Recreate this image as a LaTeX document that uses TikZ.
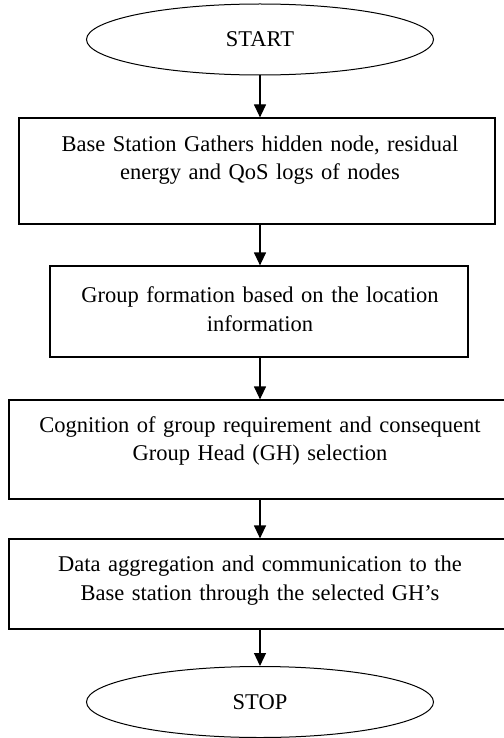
\documentclass[tikz,border=0pt]{standalone}
\usepackage{fontspec}
\setmainfont{Liberation Serif}
\usetikzlibrary{shapes,arrows.meta}

\begin{document}
\begin{tikzpicture}[
    x=1pt, y=-1pt,
    every node/.style={font=\fontsize{22.5}{28.5}\selectfont},
    term/.style={ellipse, draw, line width=1pt, minimum width=347pt, minimum height=71pt, inner sep=0pt},
    proc/.style={rectangle, draw, line width=1.2pt, inner sep=0pt},
    txt/.style={text width=495pt, align=center, inner sep=0pt},
    flow/.style={line width=1.2pt, -{Triangle[width=12pt,length=13pt]}}
]
    \path[use as bounding box, fill=white] (0,0) rectangle (503,738);

    % Terminals
    \node[term] (start) at (260,39.5) {START};
    \node[term] (stop) at (260,702) {STOP};

    % Process boxes
    \node[proc, minimum width=476pt, minimum height=106pt] (gather) at (257,171) {};
    \node[proc, minimum width=418pt, minimum height=91pt] (group) at (259,311.5) {};
    \node[proc, minimum width=502pt, minimum height=99pt] (head) at (260,449.5) {};
    \node[proc, minimum width=502pt, minimum height=90pt] (aggr) at (260,584) {};

    % Box texts (top aligned)
    \node[txt] (gathertxt) at (260,160) {Base Station Gathers hidden node, residual\\energy and QoS logs of nodes};
    \node[txt] (grouptxt) at (260,309) {Group formation based on the location\\information};
    \node[txt] (headtxt) at (260,441) {Cognition of group requirement and consequent\\Group Head (GH) selection};
    \node[txt] (aggrtxt) at (260,580.5) {Data aggregation and communication to the\\Base station through the selected GH's};

    % Connections
    \draw[flow] (start) -- (gather.north -| start);
    \draw[flow] (gather.south -| start) -- (group.north -| start);
    \draw[flow] (group.south -| start) -- (head.north -| start);
    \draw[flow] (head.south -| start) -- (aggr.north -| start);
    \draw[flow] (aggr.south -| start) -- (stop);
\end{tikzpicture}
\end{document}
